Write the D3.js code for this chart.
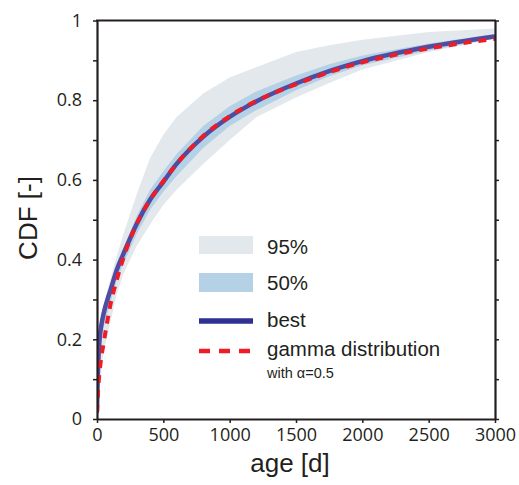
<!DOCTYPE html>
<html>
<head>
<meta charset="utf-8">
<script src="https://cdn.jsdelivr.net/npm/d3@7"></script>
<style>
  body { margin: 0; background: #fff; }
  svg { display: block; }
  .tick text { font-family: "Open Sans", "Liberation Sans", sans-serif; font-size: 18px; fill: #231f20; }
  .leg { font-family: "Liberation Sans", Arial, sans-serif; fill: #231f20; }
</style>
</head>
<body>
<svg id="chart" width="519" height="485"></svg>
<script>
// ages [d] the band limits were read at
var bandAge = [0, 25, 50, 100, 150, 200, 300, 400, 500, 600, 800, 1000, 1200, 1500, 1750, 2000, 2500, 3000];
var upper95 = [0.03, 0.22, 0.28, 0.35, 0.41, 0.465, 0.565, 0.655, 0.713, 0.758, 0.817, 0.857, 0.883, 0.921, 0.938, 0.952, 0.971, 0.98];
var lower95 = [0.0, 0.1, 0.17, 0.24, 0.315, 0.365, 0.435, 0.488, 0.537, 0.575, 0.64, 0.70, 0.757, 0.807, 0.843, 0.877, 0.921, 0.955];
var upper50 = [0.03, 0.23, 0.28, 0.335, 0.39, 0.43, 0.51, 0.575, 0.622, 0.665, 0.735, 0.785, 0.822, 0.862, 0.89, 0.912, 0.942, 0.966];
var lower50 = [0.01, 0.17, 0.23, 0.29, 0.35, 0.39, 0.465, 0.525, 0.57, 0.61, 0.68, 0.735, 0.775, 0.825, 0.86, 0.888, 0.925, 0.955];

// best fit curve
var bestAge = [0, 5, 15, 35, 50, 85, 100, 150, 200, 300, 400, 500, 600, 800, 1000, 1200, 1500, 1750, 2000, 2500, 3000];
var bestCdf = [0.02, 0.10, 0.18, 0.24, 0.265, 0.307, 0.322, 0.375, 0.415, 0.49, 0.55, 0.595, 0.64, 0.708, 0.758, 0.797, 0.842, 0.873, 0.898, 0.934, 0.96];

// gamma distribution, alpha = 0.5
var gammaAge = [0, 10, 25, 50, 75, 100, 150, 200, 300, 400, 500, 600, 800, 1000, 1200, 1500, 1750, 2000, 2250, 2500, 2750, 3000];
var gammaCdf = [0.015, 0.08, 0.135, 0.19, 0.24, 0.285, 0.35, 0.405, 0.49, 0.55, 0.597, 0.64, 0.71, 0.76, 0.798, 0.84, 0.87, 0.895, 0.914, 0.93, 0.943, 0.954];

var xTicks = [0, 500, 1000, 1500, 2000, 2500, 3000];
var yTicks = [0, 0.1, 0.2, 0.3, 0.4, 0.5, 0.6, 0.7, 0.8, 0.9, 1];

var svg = d3.select("#chart");
var x = d3.scaleLinear().domain([0, 3000]).range([97, 495]);
var y = d3.scaleLinear().domain([0, 1]).range([419, 20.5]);

svg.append("clipPath").attr("id", "clip")
  .append("rect").attr("x", 97).attr("y", 20.5).attr("width", 398).attr("height", 398.5);

var plot = svg.append("g").attr("clip-path", "url(#clip)");

function band(lo, hi) {
  var pts = bandAge.map(function (a, i) { return { a: a, lo: lo[i], hi: hi[i] } });
  return d3.area()
    .x(function (d) { return x(d.a) })
    .y0(function (d) { return y(d.lo) })
    .y1(function (d) { return y(d.hi) })(pts);
}

plot.append("path").attr("d", band(lower95, upper95)).attr("fill", "#e3e8ed");
plot.append("path").attr("d", band(lower50, upper50)).attr("fill", "#b4d1e5");

var line = d3.line().x(function (d) { return x(d[0]) }).y(function (d) { return y(d[1]) }).curve(d3.curveMonotoneX);

plot.append("path")
  .attr("d", line(d3.zip(bestAge, bestCdf)))
  .attr("fill", "none").attr("stroke", "#4f4ca3").attr("stroke-width", 4.5);

plot.append("path")
  .attr("d", line(d3.zip(gammaAge, gammaCdf)))
  .attr("fill", "none").attr("stroke", "#ee1c25").attr("stroke-width", 4)
  .attr("stroke-dasharray", "8,7");

// axes
var axCol = "#231f20";
var left = svg.append("g").attr("transform", "translate(97,0)")
  .call(d3.axisLeft(y).tickValues(yTicks).tickSize(4).tickSizeOuter(0).tickPadding(11)
    .tickFormat(function (d) { return Math.round(d * 10) % 2 === 0 ? d3.format("~g")(d) : "" }));
var right = svg.append("g").attr("transform", "translate(495,0)")
  .call(d3.axisRight(y).tickValues(yTicks).tickSize(4).tickSizeOuter(0).tickFormat(""));
var bottom = svg.append("g").attr("transform", "translate(0,419)")
  .call(d3.axisBottom(x).tickValues(xTicks).tickSize(4).tickSizeOuter(0).tickPadding(5)
    .tickFormat(d3.format("d")));

[left, right, bottom].forEach(function (g) {
  g.select(".domain").attr("stroke", axCol).attr("stroke-width", 2.2);
  g.selectAll(".tick line").attr("stroke", axCol).attr("stroke-width", 1.5);
});
svg.append("line").attr("x1", 96).attr("x2", 496).attr("y1", 20.5).attr("y2", 20.5)
  .attr("stroke", axCol).attr("stroke-width", 2.2);

// axis titles
svg.append("text").attr("class", "leg")
  .attr("x", 290).attr("y", 472).attr("text-anchor", "middle")
  .attr("font-size", 26).text("age [d]");
svg.append("text").attr("class", "leg")
  .attr("transform", "translate(37,218) rotate(-90)").attr("text-anchor", "middle")
  .attr("font-size", 26).text("CDF [-]");

// legend
var lg = svg.append("g");
lg.append("rect").attr("x", 199).attr("y", 236).attr("width", 54).attr("height", 18).attr("fill", "#e3e8ed");
lg.append("rect").attr("x", 199).attr("y", 273).attr("width", 54).attr("height", 19).attr("fill", "#b4d1e5");
lg.append("line").attr("x1", 199).attr("x2", 253).attr("y1", 321).attr("y2", 321)
  .attr("stroke", "#2e3192").attr("stroke-width", 5.5);
lg.append("line").attr("x1", 199).attr("x2", 253).attr("y1", 351).attr("y2", 351)
  .attr("stroke", "#ee1c25").attr("stroke-width", 4.5).attr("stroke-dasharray", "11,9");

var legText = [["95%", 253.5], ["50%", 290], ["best", 327], ["gamma distribution", 355.5]];
legText.forEach(function (t) {
  lg.append("text").attr("class", "leg").attr("x", 267).attr("y", t[1]).attr("font-size", 20.5).text(t[0]);
});
lg.append("text").attr("class", "leg").attr("x", 267).attr("y", 377.5).attr("font-size", 14.5)
  .text("with \u03b1=0.5");
</script>
</body>
</html>
